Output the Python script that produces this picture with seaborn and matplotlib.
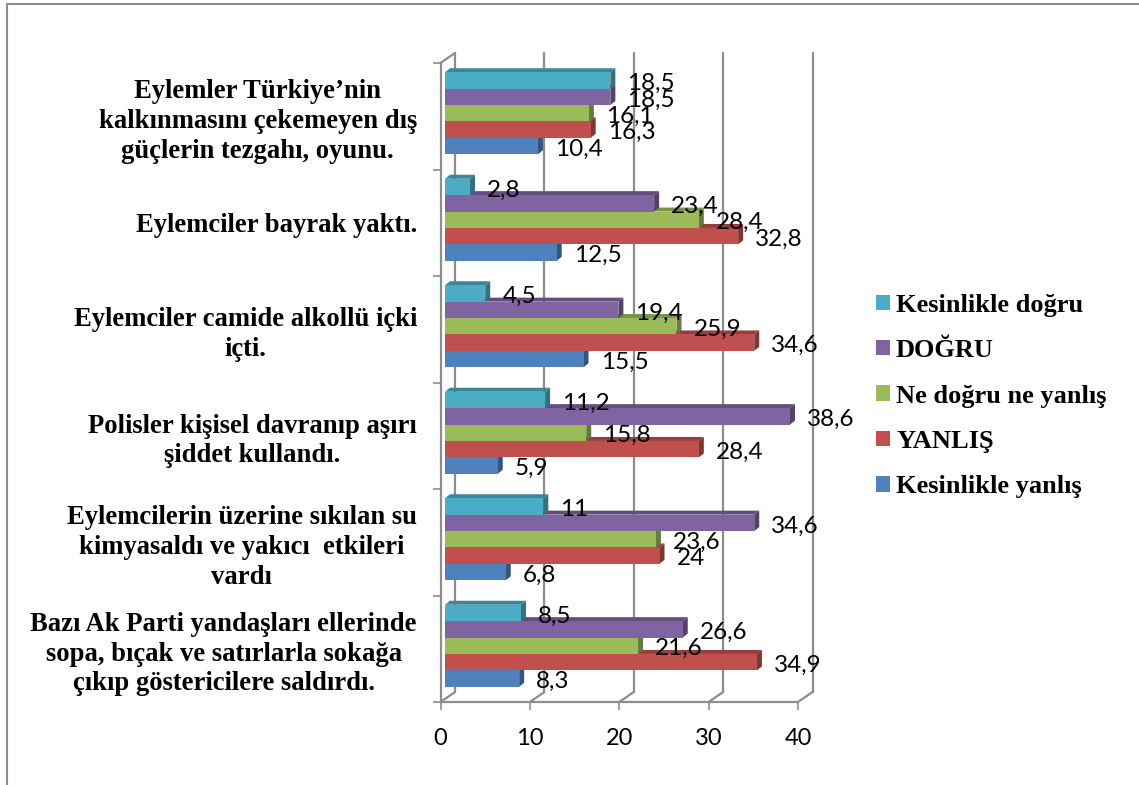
import numpy as np
import pandas as pd
import matplotlib
matplotlib.use("Agg")
import matplotlib.pyplot as plt
import matplotlib.transforms as mtrans
from matplotlib.lines import Line2D
from matplotlib.patches import Polygon
import seaborn as sns

categories = [
    "Eylemler Türkiye’nin\nkalkınmasını çekemeyen dış\ngüçlerin tezgahı, oyunu.",
    "Eylemciler bayrak yaktı.",
    "Eylemciler camide alkollü içki\niçti.",
    "Polisler kişisel davranıp aşırı\nşiddet kullandı.",
    "Eylemcilerin üzerine sıkılan su\nkimyasaldı ve yakıcı  etkileri\nvardı",
    "Bazı Ak Parti yandaşları ellerinde\nsopa, bıçak ve satırlarla sokağa\nçıkıp göstericilere saldırdı.",
]
series_names = ["Kesinlikle doğru", "DOĞRU", "Ne doğru ne yanlış", "YANLIŞ", "Kesinlikle yanlış"]
kesinlikle_dogru = [18.5, 2.8, 4.5, 11.2, 11, 8.5]
dogru = [18.5, 23.4, 19.4, 38.6, 34.6, 26.6]
ne_dogru_ne_yanlis = [16.1, 28.4, 25.9, 15.8, 23.6, 21.6]
yanlis = [16.3, 32.8, 34.6, 28.4, 24, 34.9]
kesinlikle_yanlis = [10.4, 12.5, 15.5, 5.9, 6.8, 8.3]
series_values = [kesinlikle_dogru, dogru, ne_dogru_ne_yanlis, yanlis, kesinlikle_yanlis]
colors = ["#4BACC6", "#8064A2", "#9BBB59", "#C0504D", "#4F81BD"]
x_ticks = [0, 10, 20, 30, 40]

W, H = 1139, 785
AX_L, AX_R, AX_T, AX_B = 440.5, 798.0, 63.0, 702.0
GRAY = "#8C8C8C"
SERIF = "Liberation Serif"
SANS = "Lato"

df = pd.DataFrame(
    [(c, s, v) for s, vals in zip(series_names, series_values) for c, v in zip(categories, vals)],
    columns=["cat", "series", "value"],
)

sns.set_theme(style="white")
fig = plt.figure(figsize=(W / 100, H / 100), dpi=100, facecolor="white")
ax = fig.add_axes([AX_L / W, 1 - AX_B / H, (AX_R - AX_L) / W, (AX_B - AX_T) / H])
sns.barplot(
    data=df, y="cat", x="value", hue="series", order=categories, hue_order=series_names,
    palette=colors, saturation=1, width=0.77, gap=0, orient="y", ax=ax, linewidth=0,
)
ax.set_xlim(0, 40)
ax.set_ylim(5.5, -0.5)
ax.set_xlabel("")
ax.set_ylabel("")
ax.set_facecolor("none")

px_x = (AX_R - AX_L) / 40
px_y = (AX_B - AX_T) / 6
fig.canvas.draw()
bar_shift = ax.transData + mtrans.Affine2D().translate(4.5, 3)
wall_shift = ax.transData + mtrans.Affine2D().translate(14.5, 10)
depth_x, depth_y = 5 / px_x, 4 / px_y


def shade(color, f):
    return tuple(c * f for c in matplotlib.colors.to_rgb(color))


for i, (cont, color) in enumerate(zip(ax.containers, colors)):
    z = 10 + (4 - i) * 3
    for p in cont.patches:
        p.set_transform(bar_shift)
        p.set_zorder(z + 2)
        x0, x1 = p.get_x(), p.get_x() + p.get_width()
        y0, y1 = sorted((p.get_y(), p.get_y() + p.get_height()))
        ax.add_patch(Polygon(
            [(x0, y0), (x1, y0), (x1 + depth_x, y0 - depth_y), (x0 + depth_x, y0 - depth_y)],
            closed=True, fc=shade(color, 0.78), ec="none", transform=bar_shift, zorder=z, clip_on=False))
        ax.add_patch(Polygon(
            [(x1, y0), (x1 + depth_x, y0 - depth_y), (x1 + depth_x, y1 - depth_y), (x1, y1)],
            closed=True, fc=shade(color, 0.66), ec="none", transform=bar_shift, zorder=z + 1, clip_on=False))
    labels = [f"{v:g}".replace(".", ",") for v in cont.datavalues]
    ax.bar_label(cont, labels=labels, padding=15.5, fontsize=17.5, fontfamily=SANS,
                 color="black", zorder=40, clip_on=False)

# 3-D walls: back gridlines and floor connectors
y_lo, y_hi = ax.get_ylim()
for t in x_ticks:
    ax.add_line(Line2D([t, t], [y_lo, y_hi], color=GRAY, lw=1.6, transform=wall_shift, zorder=1, clip_on=False))
    ax.add_line(Line2D([t, t + 14.5 / px_x], [y_lo, y_lo - 10 / px_y], color=GRAY, lw=1.6, zorder=1, clip_on=False))
ax.add_line(Line2D([0, 14.5 / px_x], [y_hi, y_hi - 10 / px_y], color=GRAY, lw=1.6, zorder=1, clip_on=False))

for s in ("top", "right"):
    ax.spines[s].set_visible(False)
for s in ("left", "bottom"):
    ax.spines[s].set_color(GRAY)
    ax.spines[s].set_linewidth(1.6)

ax.set_xticks(x_ticks)
ax.tick_params(axis="x", length=5.5, width=1.2, color=GRAY, pad=13, bottom=True,
               labelsize=17, labelfontfamily=SANS, labelcolor="black")
ax.set_yticks(np.arange(-0.5, 6), minor=True)
ax.tick_params(axis="y", which="minor", length=5.5, width=1.2, color=GRAY, left=True)
ax.tick_params(axis="y", which="major", length=0, pad=17, labelcolor="black")
for lab in ax.get_yticklabels():
    lab.set_fontfamily(SERIF)
    lab.set_fontweight("bold")
    lab.set_fontsize(19.2)
    lab.set_color("black")
    lab.set_multialignment("center")
    lab.set_linespacing(1.25)

sns.move_legend(
    ax, "center left", bbox_to_anchor=(876 / W, 1 - 396 / H), bbox_transform=fig.transFigure,
    frameon=False, title=None, ncol=1, borderpad=0, borderaxespad=0,
    handlelength=0.53, handleheight=0.53, handletextpad=0.23, labelspacing=0.85,
    prop={"family": SERIF, "weight": "bold", "size": 19}, labelcolor="black",
)

# outer frame of the source screenshot
fig.add_artist(Line2D([6.5 / W, 6.5 / W], [0, 1 - 3.5 / H], color=GRAY, lw=1.5))
fig.add_artist(Line2D([6.5 / W, 1], [1 - 3.5 / H, 1 - 3.5 / H], color=GRAY, lw=1.5))

fig.savefig("out.png", dpi=100, facecolor="white")
